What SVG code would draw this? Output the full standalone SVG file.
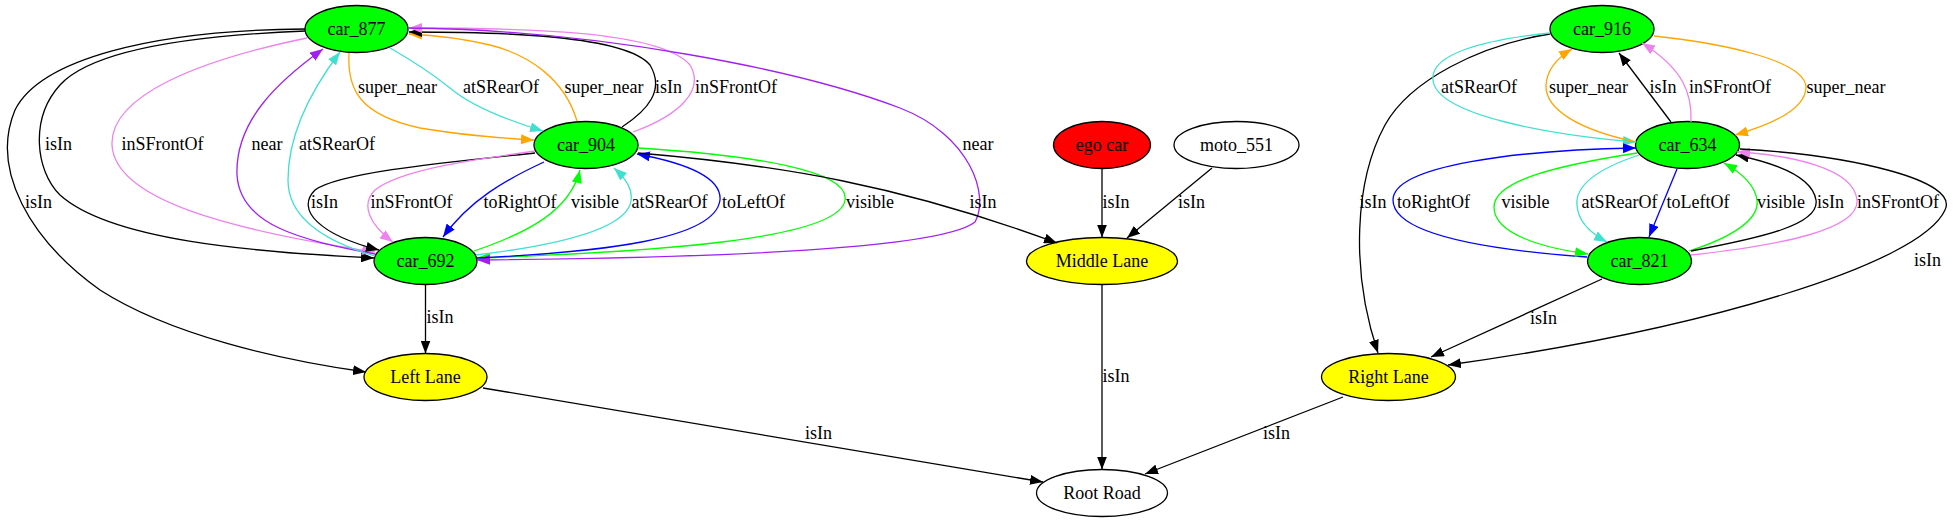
<svg xmlns="http://www.w3.org/2000/svg" width="1954" height="523" viewBox="0 0 1954 523" font-family="'Liberation Serif', 'Times New Roman', serif" font-size="18">
<style>
text{font-family:'Liberation Serif','Times New Roman',serif;font-size:18px;fill:#000;text-anchor:middle}
.n ellipse{stroke:#000;stroke-width:1.3}
.g{fill:#00ff00}.y{fill:#ffff00}.r{fill:#ff0000}.w{fill:#fff}
.e path{fill:none;stroke-width:1.3}
.k path{stroke:#000}.o path{stroke:#ffa500}.t path{stroke:#40e0d0}.v path{stroke:#ee82ee}.p path{stroke:#a020f0}.b path{stroke:#0000ff}.gr path{stroke:#00ff00}
.k path{marker-end:url(#mk)}.o path{marker-end:url(#mo)}.t path{marker-end:url(#mt)}.v path{marker-end:url(#mv)}.p path{marker-end:url(#mp)}.b path{marker-end:url(#mb)}.gr path{marker-end:url(#mg)}
</style>
<defs>
<marker id="mk" markerWidth="13" markerHeight="10" refX="13" refY="5" orient="auto" markerUnits="userSpaceOnUse"><path d="M0,0L13,5L0,10z" fill="#000"/></marker>
<marker id="mo" markerWidth="13" markerHeight="10" refX="13" refY="5" orient="auto" markerUnits="userSpaceOnUse"><path d="M0,0L13,5L0,10z" fill="#ffa500"/></marker>
<marker id="mt" markerWidth="13" markerHeight="10" refX="13" refY="5" orient="auto" markerUnits="userSpaceOnUse"><path d="M0,0L13,5L0,10z" fill="#40e0d0"/></marker>
<marker id="mv" markerWidth="13" markerHeight="10" refX="13" refY="5" orient="auto" markerUnits="userSpaceOnUse"><path d="M0,0L13,5L0,10z" fill="#ee82ee"/></marker>
<marker id="mp" markerWidth="13" markerHeight="10" refX="13" refY="5" orient="auto" markerUnits="userSpaceOnUse"><path d="M0,0L13,5L0,10z" fill="#a020f0"/></marker>
<marker id="mb" markerWidth="13" markerHeight="10" refX="13" refY="5" orient="auto" markerUnits="userSpaceOnUse"><path d="M0,0L13,5L0,10z" fill="#0000ff"/></marker>
<marker id="mg" markerWidth="13" markerHeight="10" refX="13" refY="5" orient="auto" markerUnits="userSpaceOnUse"><path d="M0,0L13,5L0,10z" fill="#00ff00"/></marker>
</defs>
<rect width="1954" height="523" fill="#fff"/>
<g id="nodes">
<g id="car_877" class="n"><ellipse class="g" cx="356.5" cy="29" rx="51.5" ry="23.5"/><text x="356.5" y="35">car_877</text></g>
<g id="car_904" class="n"><ellipse class="g" cx="586" cy="145" rx="52" ry="23.5"/><text x="586" y="151">car_904</text></g>
<g id="car_692" class="n"><ellipse class="g" cx="425.5" cy="261" rx="51.5" ry="23.5"/><text x="425.5" y="267">car_692</text></g>
<g id="left_lane" class="n"><ellipse class="y" cx="425.5" cy="377" rx="61.5" ry="23.5"/><text x="425.5" y="383">Left Lane</text></g>
<g id="ego_car" class="n"><ellipse class="r" cx="1102" cy="145" rx="48.5" ry="23.5"/><text x="1102" y="151">ego car</text></g>
<g id="moto_551" class="n"><ellipse class="w" cx="1236.5" cy="145" rx="62.5" ry="23.5"/><text x="1236.5" y="151">moto_551</text></g>
<g id="middle_lane" class="n"><ellipse class="y" cx="1102" cy="261" rx="75.5" ry="23.5"/><text x="1102" y="267">Middle Lane</text></g>
<g id="root_road" class="n"><ellipse class="w" cx="1102" cy="493" rx="65.5" ry="23.5"/><text x="1102" y="499">Root Road</text></g>
<g id="right_lane" class="n"><ellipse class="y" cx="1388.5" cy="377" rx="67" ry="23.5"/><text x="1388.5" y="383">Right Lane</text></g>
<g id="car_916" class="n"><ellipse class="g" cx="1602" cy="29" rx="52" ry="23.5"/><text x="1602" y="35">car_916</text></g>
<g id="car_634" class="n"><ellipse class="g" cx="1687.5" cy="145" rx="52" ry="23.5"/><text x="1687.5" y="151">car_634</text></g>
<g id="car_821" class="n"><ellipse class="g" cx="1639.5" cy="261" rx="52" ry="23.5"/><text x="1639.5" y="267">car_821</text></g>
</g>
<g id="connectors">
<g class="e k"><path d="M305,31 C180,36 90,52 60,85 C30,118 35,170 60,195 C110,240 250,252 374,258"/><text x="58.5" y="150">isIn</text></g>
<g class="e k"><path d="M305,29 C150,30 40,60 15,110 C-10,170 30,240 100,290 C170,335 280,360 366,372"/><text x="38.5" y="208">isIn</text></g>
<g class="e v"><path d="M307,38 C200,60 110,95 112,145 C115,200 230,230 375,252"/><text x="162.5" y="150">inSFrontOf</text></g>
<g class="e p"><path d="M375,254 C300,240 240,225 237,175 C235,120 280,80 323,49"/><text x="267" y="150">near</text></g>
<g class="e t"><path d="M375,256 C320,240 288,215 288,180 C288,130 315,85 340,52"/><text x="337" y="150">atSRearOf</text></g>
<g class="e o"><path d="M349,53 C347,90 360,115 420,128 C460,135 500,138 534,140"/><text x="397.5" y="93">super_near</text></g>
<g class="e t"><path d="M390,48 C420,65 440,80 450,88 C470,105 500,118 543,131"/><text x="501" y="93">atSRearOf</text></g>
<g class="e o"><path d="M577,121 C565,80 530,55 490,45 C460,38 430,35 409,34"/><text x="604" y="93">super_near</text></g>
<g class="e k"><path d="M622,127 C648,110 665,90 650,65 C625,35 500,32 409,32"/><text x="668.5" y="93">isIn</text></g>
<g class="e v"><path d="M633,132 C680,115 705,90 690,65 C660,30 520,28 409,28"/><text x="736" y="93">inSFrontOf</text></g>
<g class="e gr"><path d="M638,148 C750,155 850,170 845,200 C840,240 650,252 477,258"/><text x="870" y="208">visible</text></g>
<g class="e p"><path d="M408,28 C600,30 800,70 900,108 C970,135 990,195 975,222 C940,250 700,258 477,260"/><text x="978" y="150">near</text></g>
<g class="e k"><path d="M535,153 C450,162 340,172 315,190 C295,210 320,235 379,250"/><text x="324.5" y="208">isIn</text></g>
<g class="e v"><path d="M535,151 C470,160 400,170 375,190 C360,205 370,225 393,242"/><text x="411.5" y="208">inSFrontOf</text></g>
<g class="e b"><path d="M544,162 C505,180 470,200 443,237"/><text x="520" y="208">toRightOf</text></g>
<g class="e gr"><path d="M474,251 C530,232 570,210 580,170"/><text x="595" y="208">visible</text></g>
<g class="e t"><path d="M476,255 C560,245 620,230 630,205 C635,190 625,178 614,168"/><text x="669.5" y="208">atSRearOf</text></g>
<g class="e b"><path d="M477,258 C600,252 715,240 720,200 C722,175 680,162 637,154"/><text x="753.5" y="208">toLeftOf</text></g>
<g class="e k"><path d="M638,153 C780,165 900,185 1057,243"/><text x="983" y="208">isIn</text></g>
<g class="e k"><path d="M1102,169 L1102,237.5"/><text x="1116" y="208">isIn</text></g>
<g class="e k"><path d="M1212,168 L1127,238"/><text x="1191.5" y="208">isIn</text></g>
<g class="e k"><path d="M425.5,284.5 L425.5,353.5"/><text x="440" y="323">isIn</text></g>
<g class="e k"><path d="M483,388 L1043,482"/><text x="818.5" y="439">isIn</text></g>
<g class="e k"><path d="M1102,284.5 L1102,469.5"/><text x="1116" y="382">isIn</text></g>
<g class="e k"><path d="M1343,397 L1145,474"/><text x="1276.5" y="439">isIn</text></g>
<g class="e k"><path d="M1550,34 C1480,45 1410,80 1385,125 C1355,180 1350,270 1378,353"/><text x="1373" y="208">isIn</text></g>
<g class="e t"><path d="M1550,33 C1480,40 1430,55 1433,80 C1436,115 1550,135 1636,142"/><text x="1479" y="93">atSRearOf</text></g>
<g class="e o"><path d="M1636,142 C1580,130 1545,110 1546,85 C1547,70 1557,58 1572,49"/><text x="1588.5" y="93">super_near</text></g>
<g class="e k"><path d="M1671,122 L1619,53"/><text x="1663" y="93">isIn</text></g>
<g class="e v"><path d="M1691,122 C1692,95 1685,70 1642,43"/><text x="1730" y="93">inSFrontOf</text></g>
<g class="e o"><path d="M1654,36 C1720,43 1805,60 1806,87 C1806,110 1770,125 1735,135"/><text x="1846" y="93">super_near</text></g>
<g class="e b"><path d="M1587,257 C1490,250 1393,235 1393,200 C1393,165 1520,150 1636,148"/><text x="1433.5" y="208">toRightOf</text></g>
<g class="e gr"><path d="M1637,153 C1560,165 1494,180 1494,207 C1494,235 1545,248 1588,254"/><text x="1525.5" y="208">visible</text></g>
<g class="e t"><path d="M1639,155 C1600,168 1575,185 1577,205 C1578,222 1590,233 1607,242"/><text x="1619.5" y="208">atSRearOf</text></g>
<g class="e b"><path d="M1677,169 L1649,237"/><text x="1698" y="208">toLeftOf</text></g>
<g class="e gr"><path d="M1689,251 C1730,238 1760,220 1757,200 C1755,185 1740,172 1724,163"/><text x="1781" y="208">visible</text></g>
<g class="e k"><path d="M1691,251 C1760,238 1820,225 1816,200 C1812,175 1770,162 1736,155"/><text x="1830.5" y="208">isIn</text></g>
<g class="e v"><path d="M1691,255 C1780,245 1860,230 1857,200 C1854,168 1790,155 1737,152"/><text x="1898" y="208">inSFrontOf</text></g>
<g class="e k"><path d="M1740,149 C1850,155 1960,180 1945,210 C1920,265 1700,330 1448,365"/><text x="1927.5" y="266">isIn</text></g>
<g class="e k"><path d="M1602,279 L1431,357"/><text x="1543.5" y="324">isIn</text></g>
</g>
</svg>
